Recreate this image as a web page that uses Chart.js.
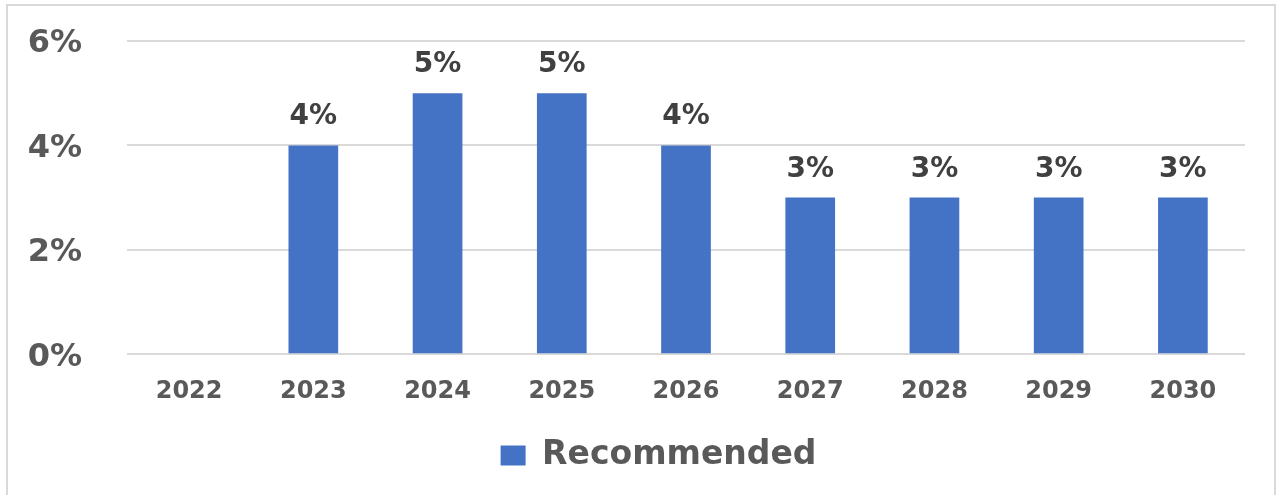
<!DOCTYPE html>
<html>
<head>
<meta charset="utf-8">
<script src="https://cdn.jsdelivr.net/npm/chart.js@4"></script>
<style>
  html, body { margin: 0; padding: 0; background: #ffffff; }
  #frame {
    position: absolute; left: 6px; top: 4px; width: 1270px; height: 500px;
    border: 2px solid #d9d9d9; box-sizing: border-box;
  }
  #wrap { position: absolute; left: 0; top: 0; width: 1278px; height: 495px; }
</style>
</head>
<body>
<div id="frame"></div>
<div id="wrap"><canvas id="chart" width="1278" height="495"></canvas></div>
<script>
// Chart data
const years = ['2022', '2023', '2024', '2025', '2026', '2027', '2028', '2029', '2030'];
const recommended = [null, 4, 5, 5, 4, 3, 3, 3, 3];
const yTicks = [0, 2, 4, 6];

const fontFamily = '"DejaVu Sans", Verdana, sans-serif';

// Draw value labels above each bar
const valueLabels = {
    id: 'valueLabels',
    afterDatasetsDraw(chart) {
        const ctx = chart.ctx;
        const meta = chart.getDatasetMeta(0);
        ctx.save();
        ctx.font = 'bold 28px ' + fontFamily;
        ctx.fillStyle = '#404040';
        ctx.textAlign = 'center';
        ctx.textBaseline = 'alphabetic';
        meta.data.forEach((bar, i) => {
            const v = recommended[i];
            if (v === null) return;
            ctx.fillText(v + '%', bar.x, bar.y - 21);
        });
        ctx.restore();
    }
};

// Legend sits a little right of the canvas centre in the original
const legendShift = {
    id: 'legendShift',
    afterLayout(chart) {
        chart.legend.left += 36;
        chart.legend.right += 36;
    }
};

const ctx = document.getElementById('chart').getContext('2d');
new Chart(ctx, {
    type: 'bar',
    data: {
        labels: years,
        datasets: [{
            label: 'Recommended',
            data: recommended,
            backgroundColor: '#4472C4',
            borderWidth: 0,
            categoryPercentage: 1,
            barPercentage: 0.4
        }]
    },
    options: {
        responsive: false,
        animation: false,
        layout: { padding: { left: 0, right: 33, top: 41, bottom: 13 } },
        plugins: {
            tooltip: { enabled: false },
            legend: {
                position: 'bottom',
                labels: {
                    boxWidth: 25,
                    boxHeight: 20,
                    padding: 21,
                    color: '#595959',
                    font: { family: fontFamily, size: 33, weight: 'bold' }
                }
            }
        },
        scales: {
            x: {
                afterFit(scale) { scale.height -= 3; },
                grid: { display: false },
                border: { display: false },
                ticks: {
                    color: '#595959',
                    padding: 15,
                    font: { family: fontFamily, size: 24, weight: 'bold' }
                }
            },
            y: {
                min: 0,
                max: 6,
                afterFit(scale) {
                    scale.width = 127;
                    scale.paddingTop = 0;
                    scale.paddingBottom = 0;
                },
                afterBuildTicks(scale) { scale.ticks = yTicks.map(v => ({ value: v })); },
                grid: { color: '#d9d9d9', lineWidth: 2, drawTicks: false },
                border: { display: false },
                ticks: {
                    color: '#595959',
                    padding: 45,
                    labelOffset: 3,
                    font: { family: fontFamily, size: 32, weight: 'bold' },
                    callback: v => v + '%'
                }
            }
        }
    },
    plugins: [valueLabels, legendShift]
});
</script>
</body>
</html>
